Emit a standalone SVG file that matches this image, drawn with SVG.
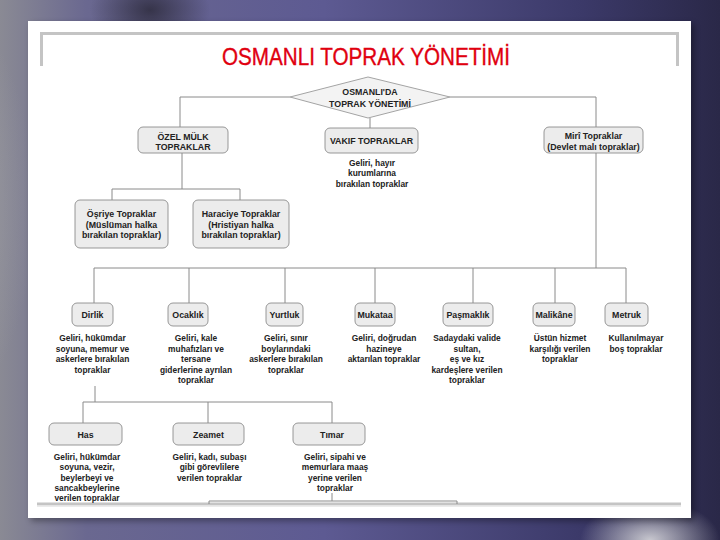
<svg xmlns="http://www.w3.org/2000/svg" width="720" height="540" viewBox="0 0 720 540">
<defs>
<linearGradient id="bg" x1="0" y1="0" x2="1" y2="0">
<stop offset="0" stop-color="#8a8a94"/>
<stop offset="0.12" stop-color="#6a6890"/>
<stop offset="0.45" stop-color="#5d5a92"/>
<stop offset="0.8" stop-color="#3c3a6a"/>
<stop offset="1" stop-color="#2a2848"/>
</linearGradient>
<radialGradient id="leftGlow" cx="0" cy="0.4" r="0.6">
<stop offset="0" stop-color="#a8a8ae" stop-opacity="0.9"/>
<stop offset="1" stop-color="#a8a8ae" stop-opacity="0"/>
</radialGradient>
<radialGradient id="spot" cx="0.5" cy="0.5" r="0.5">
<stop offset="0" stop-color="#d8d8dc" stop-opacity="0.9"/>
<stop offset="1" stop-color="#d8d8dc" stop-opacity="0"/>
</radialGradient>
<radialGradient id="topDark" cx="0.5" cy="0.5" r="0.5">
<stop offset="0" stop-color="#2a2838" stop-opacity="0.8"/>
<stop offset="1" stop-color="#2a2838" stop-opacity="0"/>
</radialGradient>
<filter id="sh" x="-5%" y="-5%" width="110%" height="110%">
<feGaussianBlur stdDeviation="3"/>
</filter>
<style>
.box{fill:#ececec;stroke:#8c8c8c;stroke-width:0.9}
.lbl{font-family:"Liberation Sans",Arial,sans-serif;font-weight:bold;font-size:8.8px;fill:#222;text-anchor:middle}
.dsc{font-family:"Liberation Sans",Arial,sans-serif;font-weight:bold;font-size:8.4px;fill:#222;text-anchor:middle}
.ln{fill:none;stroke:#8a8a8a;stroke-width:1}
.frame{fill:none;stroke:#c4c4c4;stroke-width:3}
</style>
</defs>
<!-- background -->
<rect x="0" y="0" width="720" height="540" fill="url(#bg)"/>
<rect x="-120" y="40" width="260" height="420" fill="url(#leftGlow)"/>
<ellipse cx="150" cy="10" rx="60" ry="40" fill="url(#topDark)"/>
<ellipse cx="650" cy="540" rx="70" ry="40" fill="url(#spot)"/>
<!-- panel -->
<rect x="31" y="24" width="663" height="497" fill="#000" opacity="0.35" filter="url(#sh)"/>
<rect x="28" y="21" width="663" height="497" fill="#ffffff"/>
<polyline class="frame" points="41.5,66 41.5,33.5 677.5,33.5 677.5,66"/>
<line x1="37" y1="504" x2="681" y2="504" stroke="#c4c4c4" stroke-width="3"/>
<line x1="37" y1="506" x2="681" y2="506" stroke="#e4e4e4" stroke-width="1.5"/>
<!-- title -->
<text x="366" y="65" font-family="Liberation Sans,Arial,sans-serif" font-size="23" fill="#e0000f" stroke="#e0000f" stroke-width="0.35" text-anchor="middle" textLength="288" lengthAdjust="spacingAndGlyphs">OSMANLI TOPRAK YÖNETİMİ</text>
<!-- connectors -->
<g id="connectors">
<polyline class="ln" points="290,97 180,97 180,127"/>
<polyline class="ln" points="450,97 596,97 596,127"/>
<line class="ln" x1="370" y1="118" x2="370" y2="128"/>
<polyline class="ln" points="182,152 182,189"/>
<polyline class="ln" points="112,200 112,189 240,189 240,200"/>
<line class="ln" x1="596" y1="153" x2="596" y2="268"/>
<line class="ln" x1="94" y1="268" x2="626" y2="268"/>
<line class="ln" x1="94" y1="268" x2="94" y2="303"/>
<line class="ln" x1="189" y1="268" x2="189" y2="303"/>
<line class="ln" x1="285" y1="268" x2="285" y2="303"/>
<line class="ln" x1="375" y1="268" x2="375" y2="303"/>
<line class="ln" x1="473" y1="268" x2="473" y2="303"/>
<line class="ln" x1="555" y1="268" x2="555" y2="303"/>
<line class="ln" x1="626" y1="268" x2="626" y2="303"/>
<line class="ln" x1="95" y1="386" x2="95" y2="402"/>
<polyline class="ln" points="83,423 83,402 332,402 332,423"/>
<line class="ln" x1="208" y1="402" x2="208" y2="423"/>
<line class="ln" x1="332" y1="493" x2="332" y2="501"/>
<polyline class="ln" points="209,504 209,501 457,501 457,504"/>
</g>
<!-- nodes -->
<g id="root">
<polygon points="290,97 368,77 450,97 368,118" fill="#f3f3f3" stroke="#9a9a9a" stroke-width="0.9"/>
<text class="lbl" x="370" y="95" font-size="8.3">OSMANLI'DA</text>
<text class="lbl" x="370" y="106.5" font-size="8.3">TOPRAK YÖNETİMİ</text>
</g>
<g id="ozel">
<rect class="box" x="138" y="127" width="90" height="26" rx="5"/>
<text class="lbl" x="183" y="139.5">ÖZEL MÜLK</text>
<text class="lbl" x="183" y="149.5">TOPRAKLAR</text>
</g>
<g id="vakif">
<rect class="box" x="325" y="128" width="93" height="25" rx="5"/>
<text class="lbl" x="371.5" y="144">VAKIF TOPRAKLAR</text>
<text class="dsc" x="372" y="165.5">Geliri, hayır</text>
<text class="dsc" x="372" y="176">kurumlarına</text>
<text class="dsc" x="372" y="186.5">bırakılan topraklar</text>
</g>
<g id="miri">
<rect class="box" x="544" y="127" width="99" height="26" rx="5"/>
<text class="lbl" x="593.5" y="139">Mirî Topraklar</text>
<text class="lbl" x="593.5" y="149.5">(Devlet malı topraklar)</text>
</g>
<g id="osriye">
<rect class="box" x="75" y="200" width="93" height="48" rx="5"/>
<text class="lbl" x="121.5" y="217">Öşriye Topraklar</text>
<text class="lbl" x="121.5" y="227.5">(Müslüman halka</text>
<text class="lbl" x="121.5" y="238">bırakılan topraklar)</text>
</g>
<g id="haraciye">
<rect class="box" x="193" y="200" width="96" height="48" rx="5"/>
<text class="lbl" x="241" y="217">Haraciye Topraklar</text>
<text class="lbl" x="241" y="227.5">(Hristiyan halka</text>
<text class="lbl" x="241" y="238">bırakılan topraklar)</text>
</g>
<g id="dirlik">
<rect class="box" x="72" y="303" width="41" height="23" rx="5"/>
<text class="lbl" x="92.5" y="318">Dirlik</text>
<text class="dsc" x="92.5" y="341">Geliri, hükümdar</text>
<text class="dsc" x="92.5" y="351.5">soyuna, memur ve</text>
<text class="dsc" x="92.5" y="362">askerlere bırakılan</text>
<text class="dsc" x="92.5" y="372.5">topraklar</text>
</g>
<g id="ocaklik">
<rect class="box" x="168" y="303" width="40" height="23" rx="5"/>
<text class="lbl" x="188" y="318">Ocaklık</text>
<text class="dsc" x="196" y="341">Geliri, kale</text>
<text class="dsc" x="196" y="351.5">muhafızları ve</text>
<text class="dsc" x="196" y="362">tersane</text>
<text class="dsc" x="196" y="372.5">giderlerine ayrılan</text>
<text class="dsc" x="196" y="383">topraklar</text>
</g>
<g id="yurtluk">
<rect class="box" x="266" y="303" width="37" height="23" rx="5"/>
<text class="lbl" x="284.5" y="318">Yurtluk</text>
<text class="dsc" x="286" y="341">Geliri, sınır</text>
<text class="dsc" x="286" y="351.5">boylarındaki</text>
<text class="dsc" x="286" y="362">askerlere bırakılan</text>
<text class="dsc" x="286" y="372.5">topraklar</text>
</g>
<g id="mukataa">
<rect class="box" x="355" y="303" width="40" height="23" rx="5"/>
<text class="lbl" x="375" y="318">Mukataa</text>
<text class="dsc" x="384" y="341">Geliri, doğrudan</text>
<text class="dsc" x="384" y="351.5">hazineye</text>
<text class="dsc" x="384" y="362">aktarılan topraklar</text>
</g>
<g id="pasmaklik">
<rect class="box" x="443" y="303" width="50" height="23" rx="5"/>
<text class="lbl" x="468" y="318">Paşmaklık</text>
<text class="dsc" x="467" y="341">Sadaydaki valide</text>
<text class="dsc" x="467" y="351.5">sultan,</text>
<text class="dsc" x="467" y="362">eş ve kız</text>
<text class="dsc" x="467" y="372.5">kardeşlere verilen</text>
<text class="dsc" x="467" y="383">topraklar</text>
</g>
<g id="malikane">
<rect class="box" x="533" y="303" width="42" height="23" rx="5"/>
<text class="lbl" x="554" y="318">Malikâne</text>
<text class="dsc" x="560" y="341">Üstün hizmet</text>
<text class="dsc" x="560" y="351.5">karşılığı verilen</text>
<text class="dsc" x="560" y="362">topraklar</text>
</g>
<g id="metruk">
<rect class="box" x="605" y="303" width="43" height="23" rx="5"/>
<text class="lbl" x="626.5" y="318">Metruk</text>
<text class="dsc" x="636" y="341">Kullanılmayar</text>
<text class="dsc" x="636" y="351.5">boş topraklar</text>
</g>
<g id="has">
<rect class="box" x="49" y="423" width="73" height="22" rx="5"/>
<text class="lbl" x="85.5" y="437.5">Has</text>
<text class="dsc" x="87" y="460">Geliri, hükümdar</text>
<text class="dsc" x="87" y="470.3">soyuna, vezir,</text>
<text class="dsc" x="87" y="480.6">beylerbeyi ve</text>
<text class="dsc" x="87" y="490.9">sancakbeylerine</text>
<text class="dsc" x="87" y="501">verilen topraklar</text>
</g>
<g id="zeamet">
<rect class="box" x="173" y="423" width="71" height="22" rx="5"/>
<text class="lbl" x="208.5" y="437.5">Zeamet</text>
<text class="dsc" x="209.5" y="460">Geliri, kadı, subaşı</text>
<text class="dsc" x="209.5" y="470.3">gibi görevlilere</text>
<text class="dsc" x="209.5" y="480.6">verilen topraklar</text>
</g>
<g id="timar">
<rect class="box" x="293" y="423" width="72" height="22" rx="5"/>
<text class="lbl" x="332" y="437.5">Tımar</text>
<text class="dsc" x="335" y="460">Geliri, sipahi ve</text>
<text class="dsc" x="335" y="470.3">memurlara maaş</text>
<text class="dsc" x="335" y="480.6">yerine verilen</text>
<text class="dsc" x="335" y="490.9">topraklar</text>
</g>
</svg>
